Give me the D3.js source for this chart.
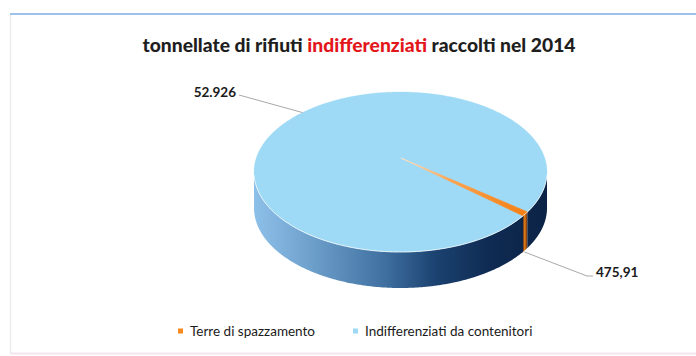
<!DOCTYPE html>
<html>
<head>
<meta charset="utf-8">
<script src="https://cdn.jsdelivr.net/npm/d3@7"></script>
<style>
  html, body { margin: 0; padding: 0; background: #ffffff; }
  svg { display: block; }
</style>
</head>
<body>
<svg id="chart" width="696" height="356"></svg>
<script>
// Rifiuti indifferenziati raccolti nel 2014 (tonnellate)
const categories = ["Terre di spazzamento", "Indifferenziati da contenitori"];
const values = [475.91, 52926];
const valueLabels = ["475,91", "52.926"];
const titleParts = ["tonnellate di rifiuti ", "indifferenziati", " raccolti nel 2014"];

const W = 696, H = 356;
const svg = d3.select("#chart");

// palette
const topColors = ["#f7891f", "#9ed9f5"];
const sideDark = "#0b2345";

// frame
svg.append("line").attr("x1", 10).attr("x2", W).attr("y1", 14).attr("y2", 14)
  .attr("stroke", "#9cc2ea").attr("stroke-width", 2);
svg.append("line").attr("x1", 10.5).attr("x2", 10.5).attr("y1", 15).attr("y2", 353)
  .attr("stroke", "#ececec").attr("stroke-width", 1.5);
svg.append("line").attr("x1", 10).attr("x2", W).attr("y1", 353.5).attr("y2", 353.5)
  .attr("stroke", "#f1e6ef").attr("stroke-width", 2);

// title
const title = svg.append("text")
  .attr("x", 359).attr("y", 52)
  .attr("text-anchor", "middle")
  .attr("font-family", "Lato, 'Open Sans', sans-serif")
  .attr("font-weight", 900)
  .attr("font-size", 19)
  .attr("textLength", 433)
  .attr("lengthAdjust", "spacingAndGlyphs")
  .attr("fill", "#1e1e1e");
titleParts.forEach((t, i) => {
  title.append("tspan").attr("fill", i === 1 ? "#e3161b" : "#1e1e1e").text(t);
});

// 3D pie geometry
const cx = 400.5, cy = 172, rx = 146.5, ry = 80, depth = 36;
const apex = [401, 158];          // perspective centre of the top face
const deg = Math.PI / 180;

const pie = d3.pie().sort(null).value(d => d)
  .startAngle(120 * deg).endAngle(480 * deg);
const arcs = pie(values);

// angle (clockwise from 12 o'clock) -> point on the top rim
const rimX = a => cx + rx * Math.sin(a);
const rimY = a => cy - ry * Math.cos(a);

function rimPoints(a0, a1, dy) {
  const n = Math.max(2, Math.ceil(Math.abs(a1 - a0) / (0.5 * deg)));
  const pts = [];
  for (let i = 0; i <= n; i++) {
    const a = a0 + (a1 - a0) * i / n;
    pts.push([rimX(a), rimY(a) + dy]);
  }
  return pts;
}

const defs = svg.append("defs");
const sideGrad = defs.append("linearGradient").attr("id", "sideGrad")
  .attr("gradientUnits", "userSpaceOnUse")
  .attr("x1", cx - rx).attr("x2", cx + rx).attr("y1", 0).attr("y2", 0);
[[0, "#8dc0e9"], [0.2, "#6d9fcb"], [0.45, "#3e6f9f"], [0.62, "#1b4270"], [0.8, "#0f2b53"], [1, sideDark]]
  .forEach(([o, c]) => sideGrad.append("stop").attr("offset", o).attr("stop-color", c));

const orangeSide = defs.append("linearGradient").attr("id", "orangeSide")
  .attr("x1", 0).attr("x2", 1).attr("y1", 0).attr("y2", 0);
[[0, "#5a2a08"], [0.35, "#e07a18"], [0.7, "#b35a10"], [1, "#3a1a06"]]
  .forEach(([o, c]) => orangeSide.append("stop").attr("offset", o).attr("stop-color", c));

const sideFills = ["url(#orangeSide)", "url(#sideGrad)"];

// side walls: only the front half (90°..270°) is visible
const sideG = svg.append("g");
arcs.forEach((d, i) => {
  [[90 * deg, 270 * deg], [450 * deg, 630 * deg]].forEach(([f0, f1]) => {
    const a0 = Math.max(d.startAngle, f0), a1 = Math.min(d.endAngle, f1);
    if (a1 <= a0) return;
    const top = rimPoints(a0, a1, 0);
    const bot = rimPoints(a1, a0, depth);
    sideG.append("path")
      .attr("d", d3.line()(top.concat(bot)) + "Z")
      .attr("fill", sideFills[i]);
  });
});

// top face wedges drawn from the perspective centre
const topG = svg.append("g");
arcs.slice().reverse().forEach(d => {
  const i = d.index;
  const pts = [apex].concat(rimPoints(d.startAngle, d.endAngle, 0));
  let fill = topColors[i];
  if (i === 0) {
    const mid = (d.startAngle + d.endAngle) / 2;
    const g = defs.append("linearGradient").attr("id", "orangeTop")
      .attr("gradientUnits", "userSpaceOnUse")
      .attr("x1", apex[0]).attr("y1", apex[1])
      .attr("x2", rimX(mid)).attr("y2", rimY(mid));
    g.append("stop").attr("offset", 0).attr("stop-color", "#fde3c6");
    g.append("stop").attr("offset", 0.4).attr("stop-color", "#f9a24e");
    g.append("stop").attr("offset", 1).attr("stop-color", "#f57f14");
    fill = "url(#orangeTop)";
  }
  topG.append("path")
    .attr("d", d3.line()(pts) + "Z")
    .attr("fill", fill)
    .attr("stroke", fill)
    .attr("stroke-width", i === 0 ? 0.8 : 0.3)
    .attr("stroke-linejoin", "round");
});

// light highlight along the front rim
svg.append("path")
  .attr("d", d3.line()(rimPoints(92 * deg, 268 * deg, 0)))
  .attr("fill", "none").attr("stroke", "#ffffff").attr("stroke-opacity", 0.75)
  .attr("stroke-width", 1);

// data labels with leader lines
const labelFont = "Lato, 'Open Sans', sans-serif";
const small = arcs[0];
const smallMid = (small.startAngle + small.endAngle) / 2;
const leaders = [
  { // small slice: from the bottom of the wall to the label
    from: [rimX(smallMid) - 1, rimY(smallMid) + depth + 2],
    pts: [[587, 276], [593, 276]],
    text: valueLabels[0], tx: 596, ty: 277, anchor: "start"
  },
  { // large slice: from the back rim to the label
    from: [rimX(318 * deg), rimY(318 * deg)],
    pts: [[239, 95]],
    text: valueLabels[1], tx: 236, ty: 97, anchor: "end"
  }
];
leaders.forEach(l => {
  svg.append("path")
    .attr("d", d3.line()([l.from].concat(l.pts)))
    .attr("fill", "none").attr("stroke", "#a8a8a8").attr("stroke-width", 1);
  svg.append("text")
    .attr("x", l.tx).attr("y", l.ty)
    .attr("text-anchor", l.anchor)
    .attr("font-family", labelFont).attr("font-weight", 700)
    .attr("font-size", 13.5).attr("fill", "#1a1a1a")
    .text(l.text);
});

// legend
const legendX = [178, 353];
const legend = svg.append("g");
categories.forEach((c, i) => {
  legend.append("rect")
    .attr("x", legendX[i]).attr("y", 328.5).attr("width", 5).attr("height", 5)
    .attr("fill", topColors[i]);
  legend.append("text")
    .attr("x", legendX[i] + 12).attr("y", 336)
    .attr("font-family", labelFont).attr("font-size", 13.5)
    .attr("fill", "#1a1a1a")
    .text(c);
});
</script>
</body>
</html>
